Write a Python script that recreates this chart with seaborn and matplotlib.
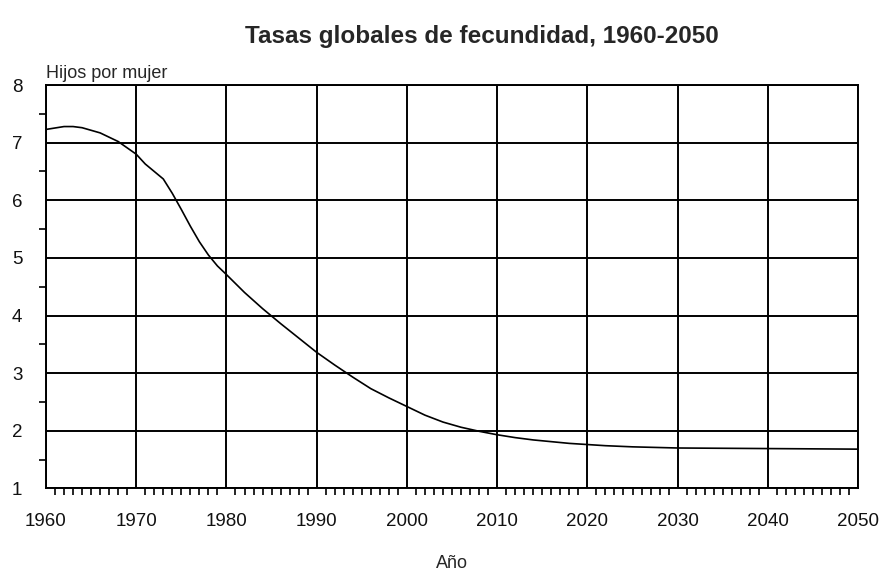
import matplotlib
matplotlib.use("Agg")
import matplotlib.pyplot as plt
import seaborn as sns
import pandas as pd
from matplotlib.ticker import MultipleLocator

# Values
years = [1960, 1962, 1963, 1964, 1966, 1968, 1970, 1971, 1972, 1973, 1974,
         1975, 1976, 1977, 1978, 1979, 1980, 1982, 1984, 1986, 1988, 1990,
         1992, 1994, 1996, 1998, 2000, 2002, 2004, 2006, 2008, 2010, 2012,
         2014, 2016, 2018, 2020, 2022, 2025, 2030, 2040, 2050]
hijos = [7.23, 7.28, 7.28, 7.26, 7.17, 7.02, 6.80, 6.63, 6.50, 6.37, 6.12,
         5.84, 5.55, 5.28, 5.05, 4.86, 4.71, 4.40, 4.12, 3.86, 3.61, 3.36,
         3.14, 2.93, 2.73, 2.57, 2.42, 2.27, 2.15, 2.06, 1.99, 1.93, 1.88,
         1.84, 1.81, 1.78, 1.76, 1.74, 1.72, 1.70, 1.69, 1.68]
x_ticks = [1960, 1970, 1980, 1990, 2000, 2010, 2020, 2030, 2040, 2050]
y_ticks = [1, 2, 3, 4, 5, 6, 7, 8]

df = pd.DataFrame({"year": years, "value": hijos})

sns.set_style("white")
plt.rcParams["font.family"] = ["Liberation Sans", "DejaVu Sans"]

fig = plt.figure(figsize=(8.81, 5.71), dpi=100)
ax = fig.add_axes([0.0522, 0.1448, 0.974 - 0.0522, 0.851 - 0.1448])

sns.lineplot(data=df, x="year", y="value", ax=ax, color="black", lw=1.2)

ax.set_xlim(1960, 2050)
ax.set_ylim(1, 8)
ax.set_xticks(x_ticks)
ax.set_yticks(y_ticks)
ax.xaxis.set_minor_locator(MultipleLocator(1))
ax.yaxis.set_minor_locator(MultipleLocator(0.5))
ax.grid(True, which="major", color="black", lw=1.4)
ax.set_axisbelow(True)

for s in ax.spines.values():
    s.set_color("black")
    s.set_linewidth(1.4)

ax.tick_params(axis="both", which="major", direction="out", length=9,
               width=1.4, color="black", labelsize=13.5, labelcolor="#111111")
ax.tick_params(axis="x", which="major", pad=9)
ax.tick_params(axis="y", which="major", pad=8)
ax.tick_params(axis="both", which="minor", direction="out", length=5,
               width=1.2, color="black", bottom=True, left=True)

ax.set_xlabel("Año", fontsize=13, labelpad=18)
ax.set_ylabel("")
ax.text(0.0, 1.008, "Hijos por mujer", transform=ax.transAxes,
        ha="left", va="bottom", fontsize=13)

fig.text(0.547, 0.936, "Tasas globales de fecundidad, 1960-2050",
         ha="center", va="center", fontsize=17.5, fontweight="bold")

fig.savefig("out.png", dpi=100)
